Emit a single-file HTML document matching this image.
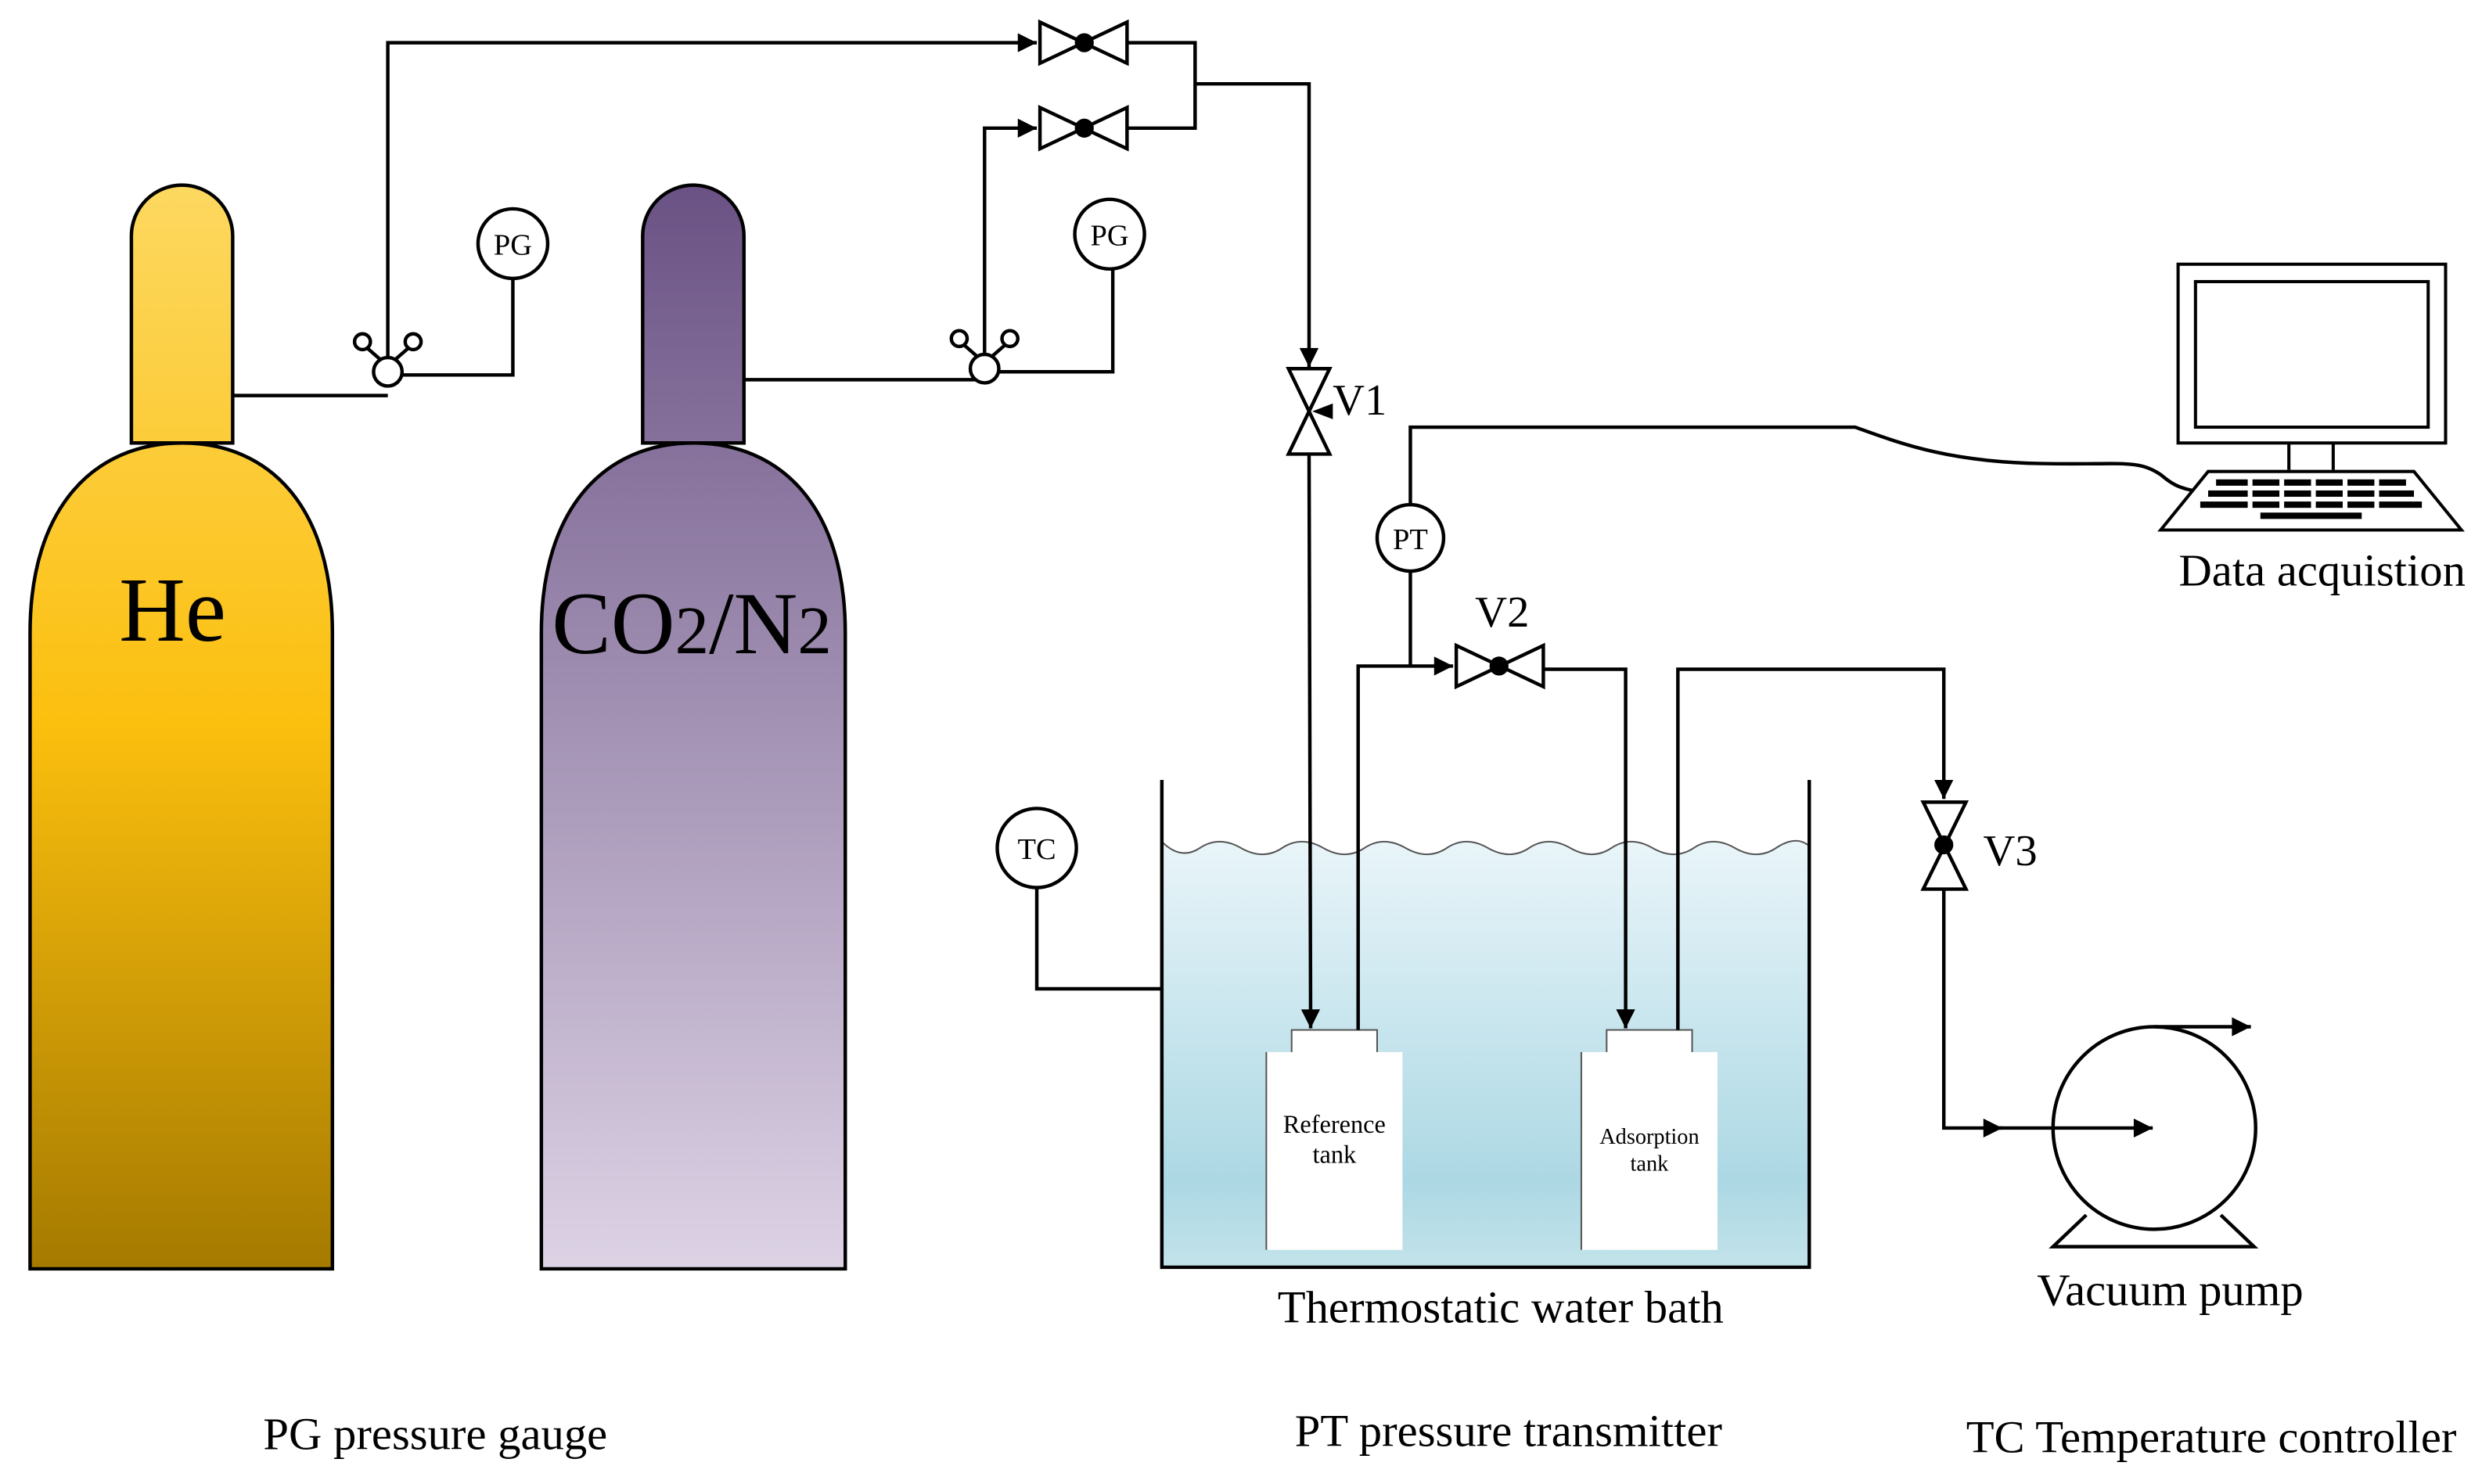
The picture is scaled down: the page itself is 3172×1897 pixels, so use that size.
<!DOCTYPE html>
<html><head><meta charset="utf-8"><style>html,body{margin:0;padding:0;background:#fff}svg{display:block}</style></head>
<body>
<svg width="3172" height="1897" viewBox="0 0 1568 938" preserveAspectRatio="none" xmlns="http://www.w3.org/2000/svg" font-family="Liberation Serif, serif">
<defs>
<linearGradient id="he" gradientUnits="userSpaceOnUse" x1="0" y1="117" x2="0" y2="802"><stop offset="0" stop-color="#fdd860"/><stop offset="0.5" stop-color="#fbbf0e"/><stop offset="1" stop-color="#a57a00"/></linearGradient>
<linearGradient id="co" gradientUnits="userSpaceOnUse" x1="0" y1="117" x2="0" y2="802"><stop offset="0" stop-color="#6a5284"/><stop offset="1" stop-color="#ddd3e5"/></linearGradient>
<linearGradient id="wa" x1="0" y1="0" x2="0" y2="1"><stop offset="0" stop-color="#e9f5f9"/><stop offset="0.8" stop-color="#acd8e4"/><stop offset="1" stop-color="#c3e3ea"/></linearGradient>
<marker id="ar" viewBox="0 0 10 10" refX="10" refY="5" markerWidth="14" markerHeight="12" orient="auto" markerUnits="userSpaceOnUse"><path d="M0,0 L10,5 L0,10z" fill="#000"/></marker>
</defs>
<!-- bath water first -->
<path d="M734,532 Q746,544 758,536 T784,536 T810,536 T836,536 T862,536 T888,536 T914,536 T940,536 T966,536 T992,536 T1018,536 T1044,536 T1070,536 T1096,536 T1122,536 T1142,534 V801 H734 Z" fill="url(#wa)"/>
<path d="M734,532 Q746,544 758,536 T784,536 T810,536 T836,536 T862,536 T888,536 T914,536 T940,536 T966,536 T992,536 T1018,536 T1044,536 T1070,536 T1096,536 T1122,536 T1142,534" stroke-width="1" stroke="#555" fill="none"/>
<!-- tanks -->
<g fill="#fff" stroke="#555" stroke-width="1">
<rect x="816" y="651" width="54" height="16"/><rect x="800" y="665" width="86" height="125" stroke="none"/><line x1="800" y1="665" x2="800" y2="790"/>
<rect x="1015" y="651" width="54" height="16"/><rect x="999" y="665" width="86" height="125" stroke="none"/><line x1="999" y1="665" x2="999" y2="790"/>
</g>
<rect x="817" y="653" width="52" height="16" fill="#fff"/><rect x="1016" y="653" width="52" height="16" fill="#fff"/>
<g stroke="#000" stroke-width="2.2" fill="none">
<!-- cylinders -->
<path d="M83,280 V149 A32,32 0 0 1 147,149 V280 Z" fill="url(#he)"/>
<path d="M19,802 V400 C19,320 60,280 115,280 C170,280 210,320 210,400 V802 Z" fill="url(#he)"/>
<path d="M406,280 V149 A32,32 0 0 1 470,149 V280 Z" fill="url(#co)"/>
<path d="M342,802 V400 C342,320 383,280 438,280 C493,280 534,320 534,400 V802 Z" fill="url(#co)"/>
<!-- He line -->
<path d="M147,250 H245"/>
<path d="M245,226 V27 H655" marker-end="url(#ar)"/>
<path d="M254,237 H324 V176"/>
<circle cx="245" cy="235" r="9" fill="#fff"/>
<line x1="240" y1="227" x2="232" y2="220"/><line x1="250" y1="227" x2="258" y2="220"/>
<circle cx="229" cy="216" r="5" fill="#fff"/><circle cx="261" cy="216" r="5" fill="#fff"/>
<circle cx="324" cy="154" r="22" fill="#fff"/>
<!-- CO2 line -->
<path d="M470,240 H617"/>
<path d="M622,224 V81 H655" marker-end="url(#ar)"/>
<path d="M631,235 H703 V170"/>
<circle cx="622" cy="233" r="9" fill="#fff"/>
<line x1="617" y1="225" x2="609" y2="218"/><line x1="627" y1="225" x2="635" y2="218"/>
<circle cx="606" cy="214" r="5" fill="#fff"/><circle cx="638" cy="214" r="5" fill="#fff"/>
<circle cx="701" cy="148" r="22" fill="#fff"/>
<!-- top valves -->
<path d="M657,14 L712,40 V14 L657,40 Z" fill="#fff"/>
<path d="M657,68 L712,94 V68 L657,94 Z" fill="#fff"/>
<path d="M712,27 H755 V81 H712"/>
<path d="M755,53 H827 V232" marker-end="url(#ar)"/>
<!-- V1 -->
<path d="M814,233 H840 L814,287 H840 Z" fill="#fff"/>
<path d="M827,287 L828,650" marker-end="url(#ar)"/>
<!-- PT -->
<path d="M891,319 V270 H1172 C1200,280 1230,292 1290,293 C1340,294 1350,290 1365,300 C1372,306 1376,308 1385,310"/>
<path d="M891,361 V421"/>
<path d="M858,651 V421 H918" marker-end="url(#ar)"/>
<circle cx="891" cy="340" r="21" fill="#fff"/>
<!-- V2 -->
<path d="M920,408 L975,434 V408 L920,434 Z" fill="#fff"/>
<path d="M975,423 H1027 V650" marker-end="url(#ar)"/>
<path d="M1060,651 V423 H1228 V505" marker-end="url(#ar)"/>
<!-- V3 -->
<path d="M1215,507 H1242 L1215,562 H1242 Z" fill="#fff"/>
<path d="M1228,562 V713 H1265" marker-end="url(#ar)"/>
<!-- pump -->
<path d="M1318,768 L1297,788 H1424 L1403,768"/>
<circle cx="1361" cy="713" r="64" fill="#fff"/>
<path d="M1262,713 H1360" marker-end="url(#ar)"/>
<path d="M1361,649 H1422" marker-end="url(#ar)"/>
<!-- bath walls -->
<path d="M734,493 V801 H1143 V493" />
<path d="M655,561 V625 H735"/>
<circle cx="655" cy="536" r="25" fill="#fff"/>
</g>
<!-- valve dots -->
<circle cx="685" cy="27" r="6"/><circle cx="685" cy="81" r="6"/>
<circle cx="947" cy="421" r="6"/><circle cx="1228" cy="534" r="6"/>
<path d="M829,260 L842,255 V265 Z"/>
<!-- computer -->
<g stroke="#000" stroke-width="2" fill="#fff">
<rect x="1376" y="167" width="169" height="113"/>
<rect x="1387" y="178" width="147" height="92"/>
<path d="M1446,280 V297 M1474,280 V297" />
<path d="M1395,298 H1525 L1555,335 H1365 Z"/>
</g>
<g fill="#000">
<rect x="1400" y="303" width="120" height="4"/><rect x="1395" y="310" width="130" height="4"/><rect x="1390" y="317" width="140" height="4"/><rect x="1428" y="324" width="64" height="4"/>
</g>
<g fill="#fff"><rect x="1420" y="302" width="3" height="20"/><rect x="1440" y="302" width="3" height="20"/><rect x="1460" y="302" width="3" height="20"/><rect x="1480" y="302" width="3" height="20"/><rect x="1500" y="302" width="3" height="20"/></g>
<!-- text -->
<g fill="#000" text-anchor="middle">
<text x="109" y="405" font-size="58">He</text>
<text x="437" y="413" font-size="56">CO<tspan font-size="43">2</tspan>/N<tspan font-size="43">2</tspan></text>
<text x="324" y="161" font-size="19">PG</text>
<text x="701" y="155" font-size="19">PG</text>
<text x="891" y="347" font-size="19">PT</text>
<text x="655" y="543" font-size="19">TC</text>
<text x="859" y="262" font-size="28">V1</text>
<text x="949" y="396" font-size="28">V2</text>
<text x="1270" y="547" font-size="28">V3</text>
<text x="843" y="716" font-size="16">Reference</text>
<text x="843" y="735" font-size="16">tank</text>
<text x="1042" y="723" font-size="14">Adsorption</text>
<text x="1042" y="740" font-size="14">tank</text>
<text x="1467" y="370" font-size="29">Data acquistion</text>
<text x="948" y="836" font-size="29">Thermostatic water bath</text>
<text x="1371" y="825" font-size="29">Vacuum pump</text>
<text x="275" y="916" font-size="29">PG pressure gauge</text>
<text x="953" y="914" font-size="29">PT pressure transmitter</text>
<text x="1397" y="918" font-size="29">TC Temperature controller</text>
</g>
</svg>
</body></html>
